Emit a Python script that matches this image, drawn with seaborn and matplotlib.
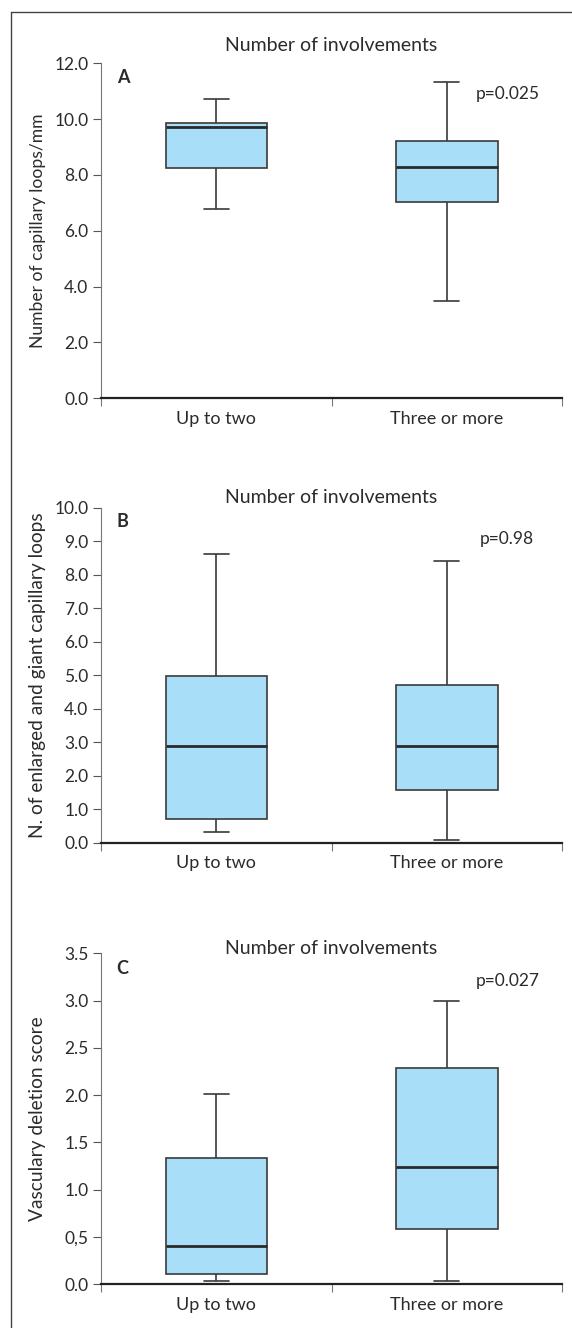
import numpy as np
import pandas as pd
import matplotlib
matplotlib.use("Agg")
import matplotlib.pyplot as plt
import seaborn as sns
from matplotlib.lines import Line2D

groups = ["Up to two", "Three or more"]

# five-number summaries: min, q1, median, q3, max
loops_up_to_two = [6.77, 8.25, 9.87, 9.72, 10.72]
loops_three_more = [3.47, 7.03, 8.27, 9.22, 11.34]

giant_up_to_two = [0.32, 0.70, 2.90, 4.99, 8.63]
giant_three_more = [0.08, 1.57, 2.90, 4.71, 8.41]

deletion_up_to_two = [0.03, 0.11, 0.41, 1.34, 2.01]
deletion_three_more = [0.03, 0.59, 1.24, 2.29, 3.00]

ylabels = ["Number of capillary loops/mm",
           "N. of enlarged and giant capillary loops",
           "Vasculary deletion score"]
letters = ["A", "B", "C"]
p_values = ["p=0.025", "p=0.98", "p=0.027"]

ticks_a = [0, 2, 4, 6, 8, 10, 12]
ticks_b = [0, 1, 2, 3, 4, 5, 6, 7, 8, 9, 10]
ticks_c = [0, 0.5, 1, 1.5, 2, 2.5, 3, 3.5]
labels_a = ["0.0", "2.0", "4.0", "6.0", "8.0", "10.0", "12.0"]
labels_b = ["0.0", "1.0", "2.0", "3.0", "4.0", "5.0", "6.0", "7.0", "8.0", "9.0", "10.0"]
labels_c = ["0.0", "0,5", "1.0", "1.5", "2.0", "2.5", "3.0", "3.5"]

sns.set_style("ticks")
plt.rcParams['font.family'] = ['Lato', 'DejaVu Sans']
plt.rcParams['font.size'] = 12.5
text_col = "#2b2b2b"

fig = plt.figure(figsize=(5.72, 13.28), dpi=100)

# frame of the figure (left and top only)
fig.add_artist(Line2D([11/572, 11/572], [0, 1 - 12/1328], transform=fig.transFigure, color="#444444", lw=1.0))
fig.add_artist(Line2D([11/572, 1], [1 - 12/1328, 1 - 12/1328], transform=fig.transFigure, color="#444444", lw=1.0))

panels = [
    (loops_up_to_two, loops_three_more, ticks_a, labels_a, [0.1766, 0.7001, 0.806, 0.2523], 1.0367, 0.940, 0.8925, 12.6),
    (giant_up_to_two, giant_three_more, ticks_b, labels_b, [0.1766, 0.3654, 0.806, 0.2523], 1.015, 0.9415, 0.8916, 13.8),
    (deletion_up_to_two, deletion_three_more, ticks_c, labels_c, [0.1766, 0.0329, 0.806, 0.2492], 0.998, 0.9375, 0.902, 13.8),
]

for i, (up, three, ticks, tlabels, pos, title_y, letter_y, p_y, ylab_size) in enumerate(panels):
    ax = fig.add_axes(pos)
    df = pd.DataFrame({"group": [groups[0]] * len(up) + [groups[1]] * len(three),
                       "value": up + three})
    sns.boxplot(data=df, x="group", y="value", order=groups, ax=ax,
                color="#a9def8", saturation=1, width=0.44, whis=(0, 100),
                linecolor="#3a3a3a", linewidth=1.2,
                medianprops=dict(linewidth=2.0, color="#2a2a2a"),
                capwidths=0.108)
    ax.set_xlim(-0.5, 1.5)
    ax.set_ylim(0, ticks[-1])
    ax.set_yticks(ticks)
    ax.set_yticklabels(tlabels)
    ax.set_xlabel("")
    ax.set_ylabel(ylabels[i], color=text_col, fontsize=ylab_size)
    ax.yaxis.set_label_coords(-0.119, 0.5)

    sns.despine(ax=ax)
    ax.spines["left"].set_color("#777777")
    ax.spines["left"].set_linewidth(0.8)
    ax.spines["bottom"].set_color("#222222")
    ax.spines["bottom"].set_linewidth(1.6)

    ax.tick_params(axis="y", length=6, width=0.8, color="#555555", pad=3, labelcolor=text_col)
    ax.tick_params(axis="x", which="major", length=0, pad=9, labelcolor=text_col, labelsize=13)
    ax.set_xticks([-0.5, 0.5, 1.5], minor=True)
    ax.tick_params(axis="x", which="minor", length=6, width=0.8, color="#777777")

    ax.text(0.5, title_y, "Number of involvements", transform=ax.transAxes,
            ha="center", va="baseline", color=text_col, fontsize=14)
    ax.text(0.034, letter_y, letters[i], transform=ax.transAxes,
            ha="left", va="baseline", fontweight="bold", color=text_col, fontsize=13)
    ax.text(0.8134 if i != 1 else 0.821, p_y, p_values[i], transform=ax.transAxes,
            ha="left", va="baseline", color=text_col)

fig.savefig("out.png", dpi=100)
